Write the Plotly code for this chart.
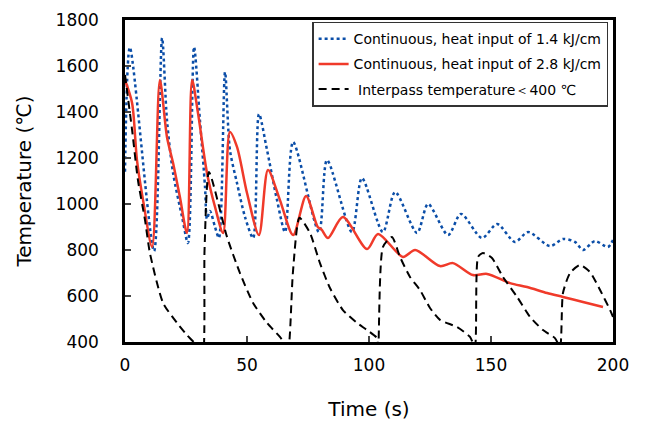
import plotly.graph_objects as go

# 1.4 kJ/cm, continuous (blue dotted)
t_14 = [0, 2.0, 11.9, 15.2, 17.2, 19.7, 23.4, 25.8, 28.3, 30.7, 32.8, 33.6, 34.8, 36.9, 38.5,
        41.0, 43.0, 45.9, 49.2, 52.5, 54.9, 58.2, 62.3, 65.6, 68.9, 79.5, 82.8, 93.0, 97.1,
        105.7, 110.7, 119.7, 124.2, 132.4, 137.7, 146.3, 152.5, 159.8, 165.2, 174.2, 179.5,
        184.4, 187.7, 192.6, 197.9, 200]
T_14 = [1140, 1680, 795, 1722, 1365, 1135, 943, 830, 1683, 1365, 1074, 935, 970, 900, 852,
        1574, 1235, 1091, 943, 852, 1391, 1235, 1017, 878, 1270, 878, 1191, 878, 1113,
        878, 1052, 874, 1000, 865, 957, 852, 913, 835, 878, 817, 848,
        835, 800, 839, 813, 843]

# 2.8 kJ/cm, continuous (red)
t_28 = [0, 2.9, 4.9, 7.4, 11.1, 14.3, 17.2, 19.7, 22.5, 25.4, 27.5, 29.9, 33.6, 36.9, 40.2,
        43.0, 45.9, 50.0, 54.9, 58.6, 63.5, 68.9, 74.2, 79.0, 80.5, 83.2, 89.3, 99.2, 103.7,
        113.9, 118.9, 129.1, 134.4, 142.6, 148.4, 157.8, 164.8, 173.0, 179.5, 187.7, 195.9]
T_28 = [1539, 1439, 1191, 1017, 813, 1539, 1291, 1178, 1030, 874, 1539, 1396, 1135, 987, 874,
        1313, 1248, 1048, 865, 1148, 1017, 865, 1035, 900, 890, 852, 943, 804, 870,
        770, 800, 730, 743, 691, 696, 656, 639, 613, 596, 574, 552]

# interpass temperature < 400 C (black dashed)
t_ip = [0, 2.9, 5.3, 8.2, 10.2, 15.6, 21.3, 25.4, 28.5, 31.8, 32.6, 34.4,
        41.8, 47.1, 52.5, 58.2, 63.5, 66.5, 67.0, 68.8, 71.5,
        75.8, 79.9, 84.0, 89.3, 95.1, 99.2, 103.3, 103.8, 105.7, 109.4,
        112.7, 116.8, 120.9, 125.0, 129.1, 136.1, 141.4, 143.4, 144.7, 146.7,
        150.4, 154.9, 160.7, 166.0, 171.3, 176.2, 178.3, 179.5, 182.4, 186.5, 190.6, 194.7, 198.8, 200]
T_ip = [1561, 1322, 1104, 930, 787, 570, 483, 430, 395, 330, 800, 1139,
        857, 700, 570, 483, 422, 380, 380, 700, 940,
        874, 743, 635, 539, 483, 452, 417, 380, 813, 857,
        770, 683, 626, 548, 496, 465, 422, 380, 770, 787,
        765, 683, 596, 509, 452, 417, 380, 613, 700, 735, 704, 626, 539, 509]

fnt = "DejaVu Sans"

fig = go.Figure()
fig.add_trace(go.Scatter(x=t_14, y=T_14, mode="lines", name="Continuous, heat input of 1.4 kJ/cm",
                         legendgroup="a", line=dict(color="#0b4ea8", width=2.5, dash="dot", shape="spline", smoothing=0.8)))
fig.add_trace(go.Scatter(x=t_28, y=T_28, mode="lines", name="Continuous, heat input of 2.8 kJ/cm",
                         legendgroup="b", line=dict(color="#f03a2a", width=2.5, shape="spline", smoothing=0.8)))
fig.add_trace(go.Scatter(x=t_ip, y=T_ip, mode="lines", name=" Interpass temperature＜400 ℃",
                         legendgroup="c", line=dict(color="black", width=2, dash="8px,5px", shape="spline", smoothing=0.6)))

# page body has an 8px margin, so the figure is a bit smaller than the window
fig.update_layout(
    width=640, height=413,
    margin=dict(l=117, r=35, t=12, b=79),
    paper_bgcolor="white", plot_bgcolor="white",
    font=dict(family=fnt, size=17, color="black"),
    legend=dict(x=0.99, y=0.995, xanchor="right", yanchor="top", bgcolor="white",
                bordercolor="#333", borderwidth=1.5, font=dict(size=14),
                traceorder="grouped", tracegroupgap=4),
    showlegend=True,
)
fig.update_xaxes(range=[0, 200], tickvals=[0, 50, 100, 150, 200], ticks="inside", ticklen=6, tickwidth=2,
                 showline=True, linewidth=2.5, linecolor="black", mirror=True, showgrid=False, zeroline=False,
                 automargin=False, title=dict(text="Time (s)", standoff=28), ticklabelstandoff=6)
fig.update_yaxes(range=[400, 1800], tickvals=list(range(400, 1801, 200)), ticks="inside", ticklen=6, tickwidth=2,
                 showline=True, linewidth=2.5, linecolor="black", mirror=True, showgrid=False, zeroline=False,
                 automargin=False, title=dict(text="Temperature (℃)", standoff=19), ticklabelstandoff=20)

fig.write_html("out.html")
